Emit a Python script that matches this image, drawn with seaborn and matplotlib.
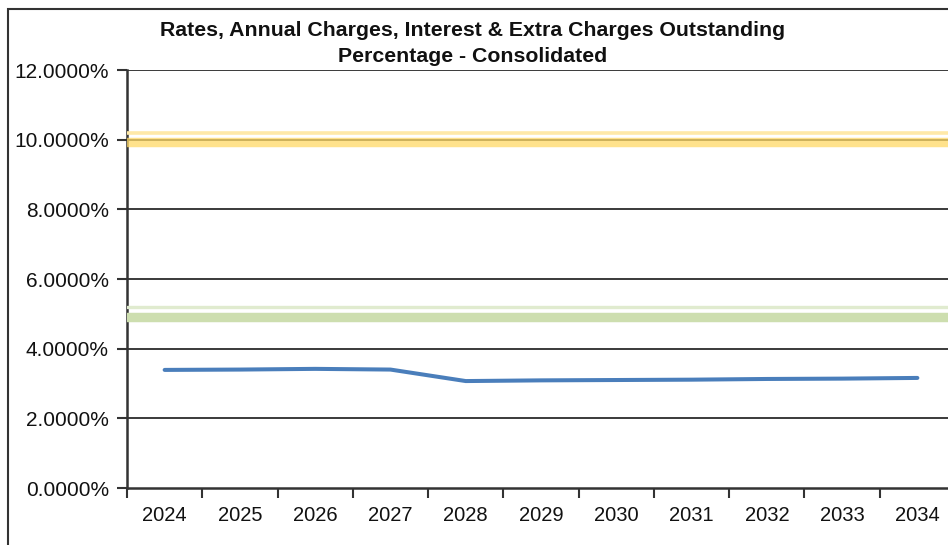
import matplotlib
matplotlib.use("Agg")
import matplotlib.pyplot as plt
import matplotlib.patheffects as pe
from matplotlib.patches import Rectangle
from matplotlib.ticker import FixedLocator, FuncFormatter
import seaborn as sns
import pandas as pd

# Outstanding percentage by year (consolidated)
years = ["2024", "2025", "2026", "2027", "2028", "2029",
         "2030", "2031", "2032", "2033", "2034"]
outstanding_pct = [3.39, 3.40, 3.42, 3.40, 3.07, 3.09,
                   3.10, 3.11, 3.13, 3.14, 3.16]

# Reference levels
upper_benchmark = 10.0
lower_benchmark = 5.0

y_ticks = [0, 2, 4, 6, 8, 10, 12]
title_lines = ["Rates, Annual Charges, Interest & Extra Charges Outstanding",
               "Percentage - Consolidated"]

sns.set_style("white")
plt.rcParams["font.family"] = ["Liberation Sans", "DejaVu Sans"]

fig = plt.figure(figsize=(9.48, 5.45), dpi=100)
fig.patch.set_facecolor("white")
ax = fig.add_axes([127 / 948, 1 - 488 / 545, (955 - 127) / 948, (488 - 70) / 545])

df = pd.DataFrame({"year": years, "pct": outstanding_pct})
sns.lineplot(data=df, x="year", y="pct", ax=ax, color="#4A7EBB",
             linewidth=2.9, zorder=5)

# Gridlines
for v in y_ticks[1:]:
    ax.axhline(v, color="#2b2b2b", linewidth=1.3, zorder=2)

# Benchmark bands
ax.axhline(upper_benchmark, color="none", zorder=3, path_effects=[
    pe.Stroke(offset=(0, 4.6), linewidth=2.6, foreground="#FFE9A8"),
    pe.Stroke(offset=(0, -2.0), linewidth=6.8, foreground="#FFD966", alpha=0.75),
])
ax.axhline(lower_benchmark, color="none", zorder=3, path_effects=[
    pe.Stroke(offset=(0, 4.6), linewidth=2.4, foreground="#E0EBCF"),
    pe.Stroke(offset=(0, -2.6), linewidth=6.8, foreground="#CDDEAF"),
])

ax.set_ylim(0, 12)
ax.set_xlim(-0.5, len(years) - 0.5)
ax.yaxis.set_major_locator(FixedLocator(y_ticks))
ax.yaxis.set_major_formatter(FuncFormatter(lambda v, p: f"{v:.4f}%"))
ax.set_xlabel("")
ax.set_ylabel("")

ax.xaxis.set_minor_locator(FixedLocator([i + 0.5 for i in range(-1, len(years))]))
ax.tick_params(axis="x", which="major", length=0, pad=13, labelsize=14.5,
               labelcolor="#111111")
ax.tick_params(axis="x", which="minor", length=7, width=1.5, color="#333333",
               direction="out", bottom=True)
ax.tick_params(axis="y", which="major", length=7, width=1.5, color="#333333",
               direction="out", left=True, pad=6, labelsize=15,
               labelcolor="#111111")

for side in ["top", "right"]:
    ax.spines[side].set_visible(False)
for side in ["left", "bottom"]:
    ax.spines[side].set_color("#333333")
    ax.spines[side].set_linewidth(1.8)
ax.set_facecolor("white")

# Chart frame
fig.patches.append(Rectangle((8 / 948, -0.2), 1.2, 1 - 9 / 545 + 0.2,
                             transform=fig.transFigure, fill=False,
                             edgecolor="#333333", linewidth=1.5, zorder=0))

fig.text(0.4985, 1 - 31 / 545, title_lines[0], ha="center", va="center",
         fontsize=15.3, fontweight="bold", color="#111111")
fig.text(0.4985, 1 - 57 / 545, title_lines[1], ha="center", va="center",
         fontsize=15.3, fontweight="bold", color="#111111")

fig.savefig("out.png", dpi=100, facecolor="white")
